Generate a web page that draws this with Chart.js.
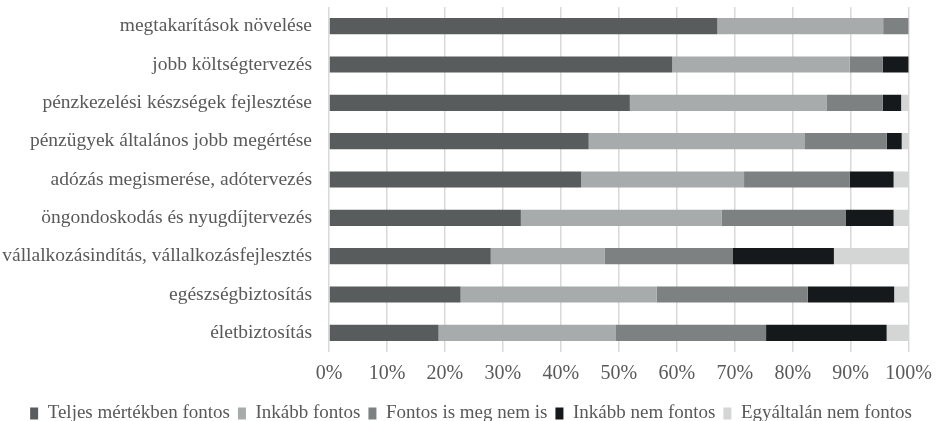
<!DOCTYPE html>
<html>
<head>
<meta charset="utf-8">
<script src="https://cdn.jsdelivr.net/npm/chart.js@4/dist/chart.umd.min.js"></script>
<style>
  html, body { margin: 0; padding: 0; background: #fff; }
  #wrap { width: 942px; height: 421px; }
</style>
</head>
<body>
<div id="wrap"><canvas id="chart" width="942" height="421"></canvas></div>
<script>
// categories (top to bottom)
const categories = [
  'megtakarítások növelése',
  'jobb költségtervezés',
  'pénzkezelési készségek fejlesztése',
  'pénzügyek általános jobb megértése',
  'adózás megismerése, adótervezés',
  'öngondoskodás és nyugdíjtervezés',
  'vállalkozásindítás, vállalkozásfejlesztés',
  'egészségbiztosítás',
  'életbiztosítás'
];

// series values (%)
const teljesFontos   = [67.0, 59.2, 51.9, 44.8, 43.5, 33.1, 27.9, 22.7, 18.9];
const inkabbFontos   = [28.6, 30.6, 34.0, 37.2, 28.1, 34.6, 19.7, 33.8, 30.5];
const fontosIsMeg    = [4.4, 5.7, 9.6, 14.2, 18.2, 21.4, 22.0, 26.1, 26.0];
const inkabbNem      = [0, 4.5, 3.2, 2.6, 7.6, 8.3, 17.5, 14.9, 20.8];
const egyaltalanNem  = [0, 0, 1.3, 1.2, 2.6, 2.6, 12.9, 2.5, 3.8];

const seriesNames = ['Teljes mértékben fontos', 'Inkább fontos', 'Fontos is meg nem is', 'Inkább nem fontos', 'Egyáltalán nem fontos'];
const seriesColors = ['#585c5c', '#a8abab', '#7e8181', '#15191b', '#d4d5d5'];
const seriesData = [teljesFontos, inkabbFontos, fontosIsMeg, inkabbNem, egyaltalanNem];

const textColor = '#595959';
const fontFamily = '"Liberation Serif", "Times New Roman", serif';

new Chart(document.getElementById('chart'), {
  type: 'bar',
  data: {
    labels: categories,
    datasets: seriesNames.map((name, i) => ({
      label: name,
      data: seriesData[i],
      backgroundColor: seriesColors[i],
      borderWidth: 0,
      categoryPercentage: 1,
      barPercentage: 0.42
    }))
  },
  options: {
    indexAxis: 'y',
    responsive: false,
    animation: false,
    layout: { padding: { top: 7, right: 0, bottom: -12, left: 0 } },
    plugins: {
      legend: {
        position: 'bottom',
        labels: {
          color: textColor,
          font: { family: fontFamily, size: 19 },
          boxWidth: 8,
          boxHeight: 12,
          padding: 8
        }
      },
      tooltip: { enabled: false }
    },
    scales: {
      x: {
        stacked: true,
        min: 0,
        max: 100,
        ticks: {
          stepSize: 10,
          color: textColor,
          font: { family: fontFamily, size: 20 },
          padding: 10,
          callback: v => v + '%'
        },
        grid: { color: '#d9d9d9', lineWidth: 1.5, drawTicks: false },
        border: { display: false }
      },
      y: {
        stacked: true,
        ticks: {
          color: textColor,
          font: { family: fontFamily, size: 19.5 },
          padding: 17
        },
        grid: { display: false, drawTicks: false },
        border: { display: false },
        afterFit: function (scale) {
          scale.width = 329;
          scale.paddingTop = 0;
          scale.paddingBottom = 0;
        }
      }
    }
  }
});
</script>
</body>
</html>
